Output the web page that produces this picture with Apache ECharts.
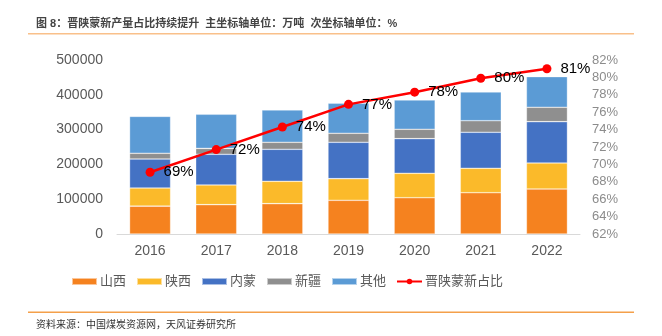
<!DOCTYPE html>
<html><head><meta charset="utf-8">
<script src="https://cdn.jsdelivr.net/npm/echarts@6/dist/echarts.min.js"></script>
<style>html,body{margin:0;padding:0;background:#fff}#c{width:662px;height:336px}</style>
</head><body><div id="c"></div>
<script>
const years = ['2016','2017','2018','2019','2020','2021','2022'];
const shanxi   = [80000, 84300, 87200, 96800, 104300, 118700, 129300];
const shaanxi  = [52200, 56700, 64200, 62200, 70100, 70100, 74800];
const neimeng  = [83300, 88000, 92000, 104500, 99600, 103500, 118700];
const xinjiang = [16500, 17000, 20100, 25900, 26900, 33300, 41300];
const qita     = [106000, 98000, 93000, 86200, 84200, 82500, 88100];
const share    = [69.1, 71.7, 74.3, 76.9, 78.3, 79.9, 81.0];
const leftTicks = [0, 100000, 200000, 300000, 400000, 500000];
const rightTicks = [62, 82, 2];

const chart = echarts.init(document.getElementById('c'));
const font = 'Liberation Sans, Arial, Noto Sans CJK SC, sans-serif';
const barStyle = c => ({color: c, borderColor: 'rgba(255,255,255,0.55)', borderWidth: 0.6});
const mkBar = (name, data, c) => ({name, type: 'bar', stack: 'a', data, barWidth: '62%', itemStyle: barStyle(c)});
chart.setOption({
  animation: false,
  textStyle: {fontFamily: font},
  grid: {left: 117, right: 82, top: 60, bottom: 102},
  legend: {
    bottom: 43, left: 66, itemWidth: 25, itemHeight: 7, itemGap: 10,
    textStyle: {fontSize: 13, color: '#595959', padding: [0,0,0,-2]},
    data: [{name:'山西',icon:'rect'},{name:'陕西',icon:'rect'},{name:'内蒙',icon:'rect'},{name:'新疆',icon:'rect'},{name:'其他',icon:'rect'},'晋陕蒙新占比']
  },
  xAxis: {
    type: 'category', data: years,
    axisLine: {lineStyle: {color: '#d9d9d9'}}, axisTick: {show: false},
    axisLabel: {fontSize: 14, color: '#595959', margin: 10}
  },
  yAxis: [{
    type: 'value', min: leftTicks[0], max: leftTicks[leftTicks.length-1], interval: leftTicks[1]-leftTicks[0],
    splitLine: {show: false}, axisLine: {show: false}, axisTick: {show: false},
    axisLabel: {fontSize: 14, color: '#595959', margin: 14, formatter: v => String(v)}
  }, {
    type: 'value', min: rightTicks[0], max: rightTicks[1], interval: rightTicks[2],
    splitLine: {show: false}, axisLine: {show: false}, axisTick: {show: false},
    axisLabel: {fontSize: 13, color: '#8c8c8c', margin: 12, formatter: '{value}%'}
  }],
  series: [
    mkBar('山西', shanxi, '#F5821F'),
    mkBar('陕西', shaanxi, '#FBBA2A'),
    mkBar('内蒙', neimeng, '#4472C4'),
    mkBar('新疆', xinjiang, '#8F8F8F'),
    mkBar('其他', qita, '#5B9BD5'),
    {name: '晋陕蒙新占比', type: 'line', yAxisIndex: 1, data: share, z: 5,
     symbol: 'circle', symbolSize: 9,
     lineStyle: {color: '#FF0000', width: 2.5}, itemStyle: {color: '#FF0000'},
     label: {show: true, position: 'right', distance: 9, fontSize: 15, color: '#000',
             formatter: p => Math.round(p.value) + '%'}}
  ],
  graphic: [
    {type: 'text', left: 36, top: 18, style: {text: '图 8：晋陕蒙新产量占比持续提升  主坐标轴单位：万吨  次坐标轴单位：%', fontSize: 11, fontWeight: 'bold', fill: '#444', fontFamily: font}},
    {type: 'rect', shape: {x: 28, y: 33, width: 606, height: 1.5}, style: {fill: '#F9C08A'}},
    {type: 'rect', shape: {x: 28, y: 311.5, width: 606, height: 1.5}, style: {fill: '#F4A04A'}},
    {type: 'text', left: 36, top: 320, style: {text: '资料来源：中国煤炭资源网，天风证券研究所', fontSize: 10, fill: '#333', fontFamily: font}}
  ]
});
</script></body></html>
